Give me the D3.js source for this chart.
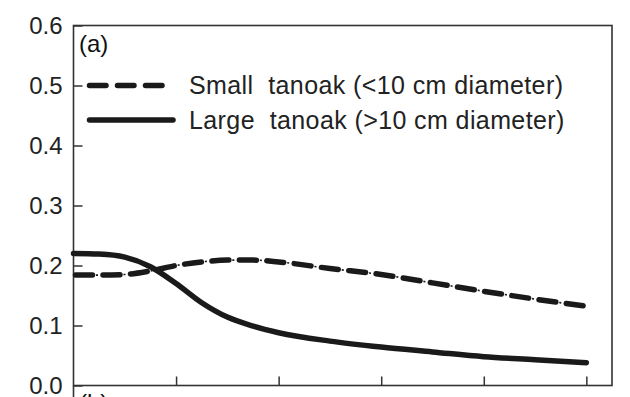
<!DOCTYPE html>
<html>
<head>
<meta charset="utf-8">
<script src="https://cdn.jsdelivr.net/npm/d3@7"></script>
<style>
  html, body { margin: 0; padding: 0; background: #fff; }
  svg { display: block; font-family: "Liberation Sans", Arial, Helvetica, sans-serif; }
</style>
</head>
<body>
<div id="chart"></div>
<script>
// ---- data ----
const xValues = [0, 0.25, 0.5, 0.75, 1.0, 1.25, 1.5, 1.75, 2.0, 2.5, 3.0, 3.5, 4.0, 4.5, 5.0];
const smallTanoak = [0.184, 0.184, 0.185, 0.191, 0.200, 0.206, 0.209, 0.209, 0.206, 0.195, 0.185, 0.171, 0.157, 0.144, 0.132];
const largeTanoak = [0.220, 0.219, 0.214, 0.198, 0.170, 0.138, 0.114, 0.099, 0.088, 0.074, 0.064, 0.056, 0.048, 0.043, 0.038];
const yTicks = [0.0, 0.1, 0.2, 0.3, 0.4, 0.5, 0.6];
const xTicks = [1, 2, 3, 4, 5];
const seriesNames = ["Small  tanoak (<10 cm diameter)", "Large  tanoak (>10 cm diameter)"];
const panelLabel = "(a)";
const nextPanelLabel = "(b)";

// ---- layout ----
const W = 630, H = 397;
const mLeft = 73.5, mRight = 612, mTop = 25.5, mBottom = 385.5;

const svg = d3.select("#chart").append("svg").attr("width", W).attr("height", H);

const x = d3.scaleLinear().domain([0, 5.25]).range([mLeft, mRight]);
const y = d3.scaleLinear().domain([0, 0.6]).range([mBottom, mTop]);

const ink = "#1a1a1a";
const axisCol = "#333";

// frame
svg.append("rect").attr("x", mLeft).attr("y", mTop).attr("width", mRight - mLeft).attr("height", mBottom - mTop)
  .attr("fill", "none").attr("stroke", axisCol).attr("stroke-width", 1.6);
// left axis continues into the next panel
svg.append("line").attr("x1", mLeft).attr("x2", mLeft).attr("y1", mBottom).attr("y2", H + 5)
  .attr("stroke", axisCol).attr("stroke-width", 1.6);

// y axis (ticks inward)
const yAxis = d3.axisLeft(y).tickValues(yTicks).tickFormat(d3.format(".1f")).tickSizeInner(-9).tickSizeOuter(0).tickPadding(11);
const gy = svg.append("g").attr("transform", `translate(${mLeft},0)`).call(yAxis);
gy.select(".domain").remove();
gy.selectAll(".tick line").attr("stroke", axisCol).attr("stroke-width", 1.5);
gy.selectAll(".tick text").attr("font-size", 24).attr("fill", "#222").attr("font-family", "Liberation Sans, Arial, sans-serif").attr("dy", "0.34em");

// x axis (ticks inward, no labels)
const xAxis = d3.axisBottom(x).tickValues(xTicks).tickFormat("").tickSizeInner(-9).tickSizeOuter(0);
const gx = svg.append("g").attr("transform", `translate(0,${mBottom})`).call(xAxis);
gx.select(".domain").remove();
gx.selectAll(".tick line").attr("stroke", axisCol).attr("stroke-width", 1.5);

// lines
const line = d3.line().curve(d3.curveMonotoneX);
const smallPts = xValues.map((v, i) => [x(v), y(smallTanoak[i])]);
const largePts = xValues.map((v, i) => [x(v), y(largeTanoak[i])]);

svg.append("path").attr("d", line(largePts)).attr("fill", "none").attr("stroke", ink)
  .attr("stroke-width", 5.5).attr("stroke-linecap", "round");

// dashed: thick dashes plus small dots between them
svg.append("path").attr("d", line(smallPts)).attr("fill", "none").attr("stroke", ink)
  .attr("stroke-width", 1.6).attr("stroke-dasharray", "2,25.5").attr("stroke-dashoffset", -22.5);
svg.append("path").attr("d", line(smallPts)).attr("fill", "none").attr("stroke", ink)
  .attr("stroke-width", 5.5).attr("stroke-dasharray", "17,10.5").attr("stroke-linecap", "round").attr("stroke-dashoffset", -2);

// legend
const lg = svg.append("g");
lg.append("line").attr("x1", 89.5).attr("x2", 163).attr("y1", y(0.5)).attr("y2", y(0.5))
  .attr("stroke", ink).attr("stroke-width", 5.5).attr("stroke-linecap", "round").attr("stroke-dasharray", "16.5,11.5");
lg.append("line").attr("x1", 89.5).attr("x2", 173).attr("y1", 120).attr("y2", 120)
  .attr("stroke", ink).attr("stroke-width", 5.5).attr("stroke-linecap", "round");
lg.selectAll("text.leg").data(seriesNames).join("text").attr("class", "leg")
  .attr("x", 189).attr("y", (d, i) => [y(0.5), 120][i]).attr("dy", "0.35em")
  .attr("font-size", 25).attr("letter-spacing", 0.4).attr("fill", "#222").style("white-space", "pre").text(d => d);

// panel labels
svg.append("text").attr("x", 79).attr("y", 52).attr("font-size", 24).attr("fill", "#111").text(panelLabel);
svg.append("text").attr("x", 79).attr("y", 411).attr("font-size", 24).attr("fill", "#111").text(nextPanelLabel);
</script>
</body>
</html>
